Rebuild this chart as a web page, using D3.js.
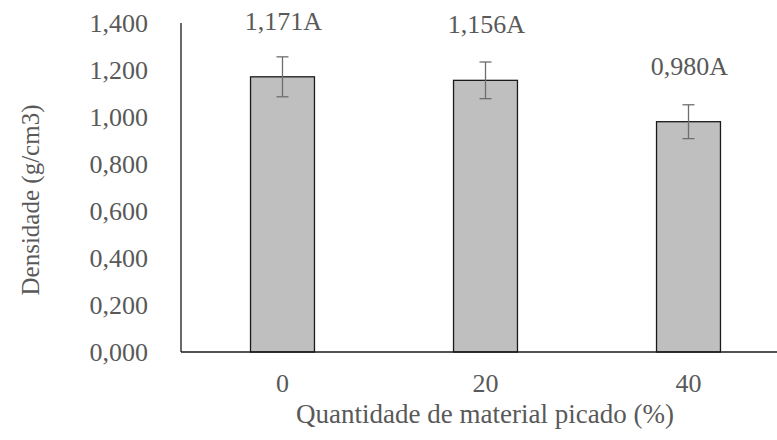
<!DOCTYPE html>
<html>
<head>
<meta charset="utf-8">
<script src="https://cdn.jsdelivr.net/npm/d3@7"></script>
<style>
  html, body { margin: 0; padding: 0; background: #fff; }
  svg text { font-family: "Liberation Serif", "Times New Roman", serif; fill: #595959; }
</style>
</head>
<body>
<svg id="chart" width="777" height="440"></svg>
<script>
const categories = ["0", "20", "40"];
const values = [1.171, 1.156, 0.980];
const errors = [0.085, 0.078, 0.072];
const valueLabels = ["1,171A", "1,156A", "0,980A"];
const yTicks = [0, 0.2, 0.4, 0.6, 0.8, 1.0, 1.2, 1.4];
const yTickLabels = ["0,000", "0,200", "0,400", "0,600", "0,800", "1,000", "1,200", "1,400"];
const xTitle = "Quantidade de material picado (%)";
const yTitle = "Densidade (g/cm3)";

(function () {
const FONT = '"Liberation Serif", "Times New Roman", serif';
const svg = d3.select("#chart");
const plotLeft = 181, plotBottom = 352, plotTop = 23;

const y = d3.scaleLinear().domain([0, 1.4]).range([plotBottom, plotTop]);
const x = d3.scaleBand().domain(categories).range([plotLeft, 790]).paddingInner(0.685).paddingOuter(0.3425);

// y tick labels (no tick marks)
const yAxis = d3.axisLeft(y).tickValues(yTicks).tickSize(0).tickPadding(33)
  .tickFormat((d, i) => yTickLabels[i]);
const gy = svg.append("g").attr("transform", `translate(${plotLeft},0)`).call(yAxis)
  .attr("font-family", FONT);
gy.select(".domain").remove();
gy.selectAll("text").style("font-size", "26px").attr("fill", "#595959").style("font-family", FONT);

// bars
svg.append("g").selectAll("rect").data(values).join("rect")
  .attr("x", (d, i) => x(categories[i]))
  .attr("y", d => y(d))
  .attr("width", x.bandwidth())
  .attr("height", d => y(0) - y(d))
  .attr("fill", "#bfbfbf")
  .attr("stroke", "#1a1a1a")
  .attr("stroke-width", 1.3);

// error bars
const eg = svg.append("g").attr("stroke", "#6e6e6e").attr("stroke-width", 1.3);
values.forEach((v, i) => {
  const cx = x(categories[i]) + x.bandwidth() / 2;
  eg.append("line").attr("x1", cx).attr("x2", cx).attr("y1", y(v + errors[i])).attr("y2", y(v - errors[i]));
  eg.append("line").attr("x1", cx - 6).attr("x2", cx + 6).attr("y1", y(v + errors[i])).attr("y2", y(v + errors[i]));
  eg.append("line").attr("x1", cx - 6).attr("x2", cx + 6).attr("y1", y(v - errors[i])).attr("y2", y(v - errors[i]));
});

// axes lines
svg.append("line").attr("x1", plotLeft).attr("x2", plotLeft).attr("y1", plotTop).attr("y2", plotBottom)
  .attr("stroke", "#1a1a1a").attr("stroke-width", 1.3);
svg.append("line").attr("x1", plotLeft).attr("x2", 777).attr("y1", plotBottom).attr("y2", plotBottom)
  .attr("stroke", "#1a1a1a").attr("stroke-width", 1.3);

// value labels
svg.append("g").selectAll("text").data(values).join("text")
  .attr("x", (d, i) => x(categories[i]) + x.bandwidth() / 2 + 1)
  .attr("y", d => y(d) - 47)
  .attr("text-anchor", "middle")
  .style("font-size", "26px").style("font-family", FONT)
  .text((d, i) => valueLabels[i]);

// x tick labels
const xAxis = d3.axisBottom(x).tickSize(0).tickPadding(0);
const gx = svg.append("g").attr("transform", `translate(0,${plotBottom})`).call(xAxis)
  .attr("font-family", FONT);
gx.select(".domain").remove();
gx.selectAll("text").attr("dy", null).attr("y", 40).style("font-size", "26px")
  .attr("fill", "#595959").style("font-family", FONT);

// axis titles
svg.append("text").attr("x", 485).attr("y", 423).attr("text-anchor", "middle")
  .style("font-size", "27px").style("font-family", FONT).text(xTitle);
svg.append("text").attr("transform", "translate(39,200) rotate(-90)").attr("text-anchor", "middle")
  .style("font-size", "25px").style("font-family", FONT).text(yTitle);
})();
</script>
</body>
</html>
